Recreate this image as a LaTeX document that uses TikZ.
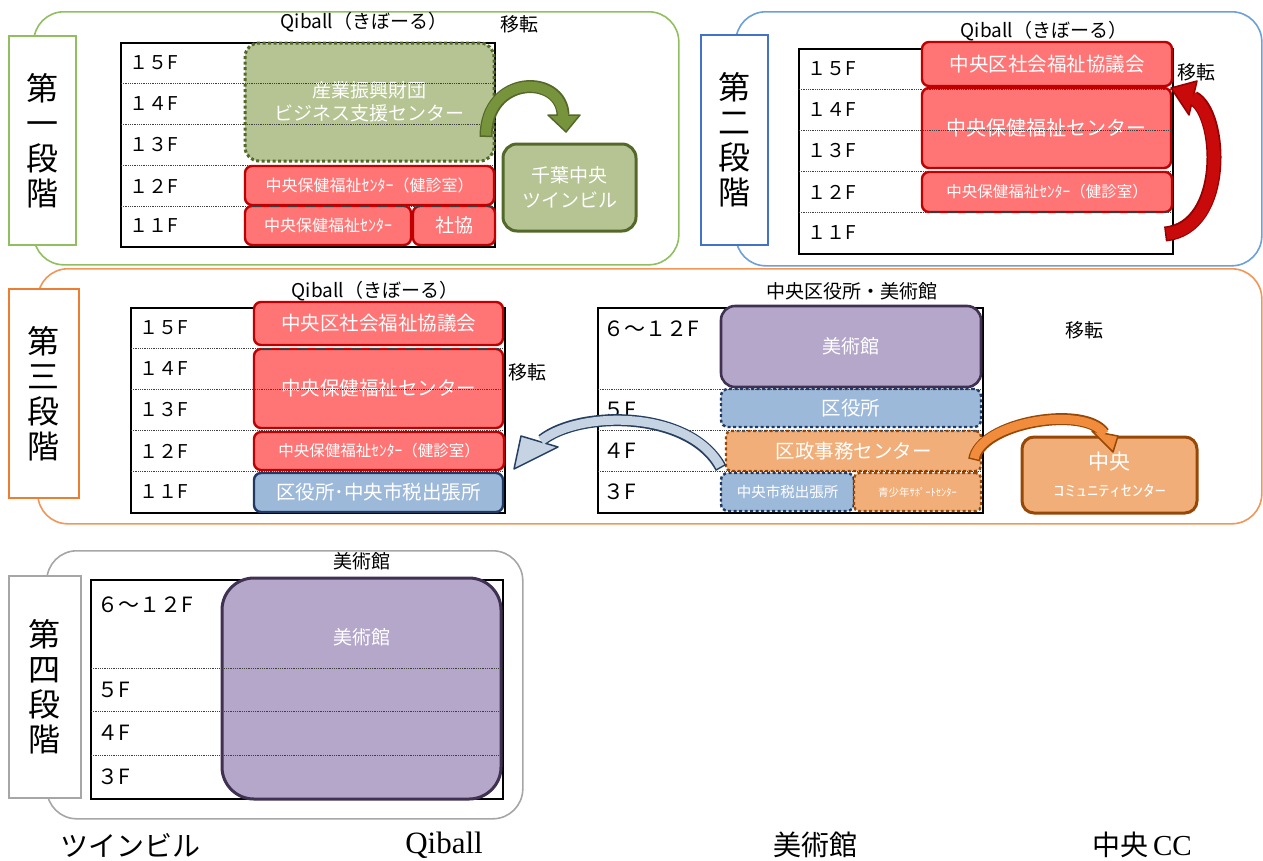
\documentclass[tikz,border=0pt]{standalone}
\usepackage{fontspec}
\usepackage{graphicx}
\setmainfont{Liberation Serif}
\newfontfamily\cjk{Noto Sans CJK JP}
\newcommand\jf[2]{\cjk\fontsize{#1}{#2}\selectfont}
\newcommand\serf[1]{\rmfamily\fontsize{#1}{#1}\selectfont}
\definecolor{grnP}{RGB}{146,190,98}
\definecolor{grnF}{RGB}{181,196,146}
\definecolor{grnD}{RGB}{84,104,42}
\definecolor{grnA}{RGB}{119,147,60}
\definecolor{redF}{RGB}{255,117,117}
\definecolor{redD}{RGB}{192,0,0}
\definecolor{redA}{RGB}{200,10,10}
\definecolor{redAD}{RGB}{150,0,0}
\definecolor{bluP}{RGB}{108,160,216}
\definecolor{bluL}{RGB}{68,114,196}
\definecolor{bluF}{RGB}{157,185,218}
\definecolor{bluD}{RGB}{31,56,100}
\definecolor{bluA}{RGB}{198,211,227}
\definecolor{bluAD}{RGB}{36,63,96}
\definecolor{orP}{RGB}{242,150,88}
\definecolor{orL}{RGB}{237,125,49}
\definecolor{orF}{RGB}{241,174,120}
\definecolor{orD}{RGB}{151,71,6}
\definecolor{orA}{RGB}{240,140,60}
\definecolor{grP}{RGB}{166,166,166}
\definecolor{purF}{RGB}{180,167,201}
\definecolor{purD}{RGB}{64,49,82}
\newcommand\fatarrow[8]{%
  \draw[draw=#2, line width=#4] #5;
  \filldraw[fill=#1, draw=#2, line width=1.5pt, line join=round] #6 -- #7 -- #8 -- cycle;
  \draw[draw=#1, line width=#3, shorten <=1.5pt, shorten >=-1.2pt] #5;
}
\begin{document}
\begin{tikzpicture}[x=1pt,y=-1pt,
  panel/.style={draw, line width=1.6pt, rounded corners=30pt, anchor=north west, inner sep=0pt},
  stg/.style={draw, fill=white, line width=1.6pt, anchor=north west, inner sep=0pt, align=center, font=\jf{32}{35}},
  tbl/.style={draw=black, line width=2pt, fill=white, anchor=north west, inner sep=0pt},
  rowline/.style={densely dotted, line width=0.8pt, black!75},
  flr/.style={anchor=west, inner sep=0pt, font=\jf{19}{19}},
  flrb/.style={anchor=west, inner sep=0pt, font=\jf{21}{21}},
  ttl/.style={inner sep=0pt, font=\jf{19}{19}},
  bx/.style={anchor=north west, inner sep=0pt, outer sep=0pt, align=center, text=white},
  redb/.style={bx, draw=redD, fill=redF, line width=2.4pt, rounded corners=7pt},
  blueb/.style={bx, draw=bluD, fill=bluF, line width=2.4pt, rounded corners=7pt},
  bluedot/.style={blueb, dash pattern=on 3pt off 2.5pt},
  orb/.style={bx, draw=orD, fill=orF, line width=3pt, rounded corners=12pt},
  ordot/.style={bx, draw=orD, fill=orF, line width=2.4pt, rounded corners=5pt, dash pattern=on 3pt off 2.5pt},
  purb/.style={bx, draw=purD, fill=purF, line width=2.6pt, rounded corners=14pt},
  grnb/.style={bx, draw=grnD, fill=grnF, line width=3pt, rounded corners=14pt},
  bottom/.style={inner sep=0pt}
]
\useasboundingbox (0,0) rectangle (1263,860);

% ---------------- panels ----------------
\node[panel, draw=grnP, minimum width=645pt, minimum height=253pt] (p1) at (33,11) {};
\node[panel, draw=bluP, minimum width=526pt, minimum height=254pt] (p2) at (735,11) {};
\node[panel, draw=orP, minimum width=1224pt, minimum height=255pt] (p3) at (37,268) {};
\node[panel, draw=grP, minimum width=476pt, minimum height=268pt] (p4) at (46,550) {};

% ---------------- stage labels ----------------
\node[stg, draw=grnP, minimum width=67pt, minimum height=209pt] (s1) at (8,35) {第\\一\\段\\階};
\node[stg, draw=bluL, minimum width=67pt, minimum height=210pt] (s2) at (700,34) {第\\二\\段\\階};
\node[stg, draw=orL, minimum width=70pt, minimum height=209pt] (s3) at (8,288) {第\\三\\段\\階};
\node[stg, draw=grP, minimum width=72pt, minimum height=222pt] (s4) at (8,575) {第\\四\\段\\階};

% ---------------- tables ----------------
\node[tbl, minimum width=374pt, minimum height=204pt] (T1) at (120,42) {};
\node[tbl, minimum width=374pt, minimum height=205pt] (T2) at (798,48) {};
\node[tbl, minimum width=374pt, minimum height=205pt] (T3) at (130,307) {};
\node[tbl, minimum width=385pt, minimum height=205pt] (T4) at (597,307) {};
\node[tbl, minimum width=412pt, minimum height=219pt] (T5) at (90,579) {};

% titles
\node[ttl] (t1) at (364,22) {Qiball（きぼーる）};
\node[ttl] (m1) at (519,24) {移転};
\node[ttl] (t2) at (1044,31) {Qiball（きぼーる）};
\node[ttl] (m2) at (1196,72) {移転};
\node[ttl] (t3) at (375,291) {Qiball（きぼーる）};
\node[ttl] (m3) at (527,372) {移転};
\node[ttl] (t4) at (852,291) {中央区役所・美術館};
\node[ttl] (m4) at (1084,330) {移転};
\node[ttl] (t5) at (362,561) {美術館};

% floor labels stage 1
\node[flr] (f1a) at (129,63) {１５F};
\node[flr] (f1b) at (129,104) {１４F};
\node[flr] (f1c) at (129,145) {１３F};
\node[flr] (f1d) at (129,186) {１２F};
\node[flr] (f1e) at (129,226) {１１F};
% stage 2
\node[flr] (f2a) at (807,69) {１５F};
\node[flr] (f2b) at (807,110) {１４F};
\node[flr] (f2c) at (807,151) {１３F};
\node[flr] (f2d) at (807,192) {１２F};
\node[flr] (f2e) at (807,233) {１１F};
% stage 3a
\node[flr] (f3a) at (139,328) {１５F};
\node[flr] (f3b) at (139,369) {１４F};
\node[flr] (f3c) at (139,410) {１３F};
\node[flr] (f3d) at (139,451) {１２F};
\node[flr] (f3e) at (139,492) {１１F};
% stage 3b
\node[flrb] (f4a) at (603,329) {６～１２F};
\node[flrb] (f4b) at (603,410) {５F};
\node[flrb] (f4c) at (603,451) {４F};
\node[flrb] (f4d) at (603,492) {３F};
% stage 4
\node[flrb] (f5a) at (97,605) {６～１２F};
\node[flrb] (f5b) at (97,690) {５F};
\node[flrb] (f5c) at (97,733) {４F};
\node[flrb] (f5d) at (97,777) {３F};

% ---------------- boxes stage 1 ----------------
\node[grnb, dash pattern=on 3pt off 2.5pt, minimum width=249pt, minimum height=118pt, font=\jf{19}{23}] (g1) at (245,43) {産業振興財団\\ビジネス支援センター};
\node[redb, minimum width=249pt, minimum height=39pt, font=\jf{16}{16}] (r1a) at (245,166) {中央保健福祉ｾﾝﾀｰ（健診室）};
\node[redb, minimum width=166pt, minimum height=39pt, font=\jf{16}{16}] (r1b) at (245,206) {中央保健福祉ｾﾝﾀｰ};
\node[redb, minimum width=82pt, minimum height=39pt, font=\jf{19}{19}] (r1c) at (413,206) {社協};
\node[grnb, minimum width=133pt, minimum height=87pt, font=\jf{19}{25}] (twin) at (503,144) {千葉中央\\ツインビル};

% ---------------- boxes stage 2 ----------------
\node[redb, minimum width=250pt, minimum height=44pt, font=\jf{19.5}{19.5}] (r2a) at (922,42) {中央区社会福祉協議会};
\node[redb, minimum width=249pt, minimum height=80pt, font=\jf{20}{20}] (r2b) at (922,88) {中央保健福祉センター};
\node[redb, minimum width=250pt, minimum height=40pt, font=\jf{15.5}{15.5}] (r2c) at (922,172) {中央保健福祉ｾﾝﾀｰ（健診室）};

% ---------------- boxes stage 3 ----------------
\node[redb, minimum width=249pt, minimum height=43pt, font=\jf{19.5}{19.5}] (r3a) at (254,302) {中央区社会福祉協議会};
\node[redb, minimum width=249pt, minimum height=79pt, font=\jf{19.5}{19.5}] (r3b) at (254,349) {中央保健福祉センター};
\node[redb, minimum width=250pt, minimum height=38pt, font=\jf{15.5}{15.5}] (r3c) at (254,432) {中央保健福祉ｾﾝﾀｰ（健診室）};
\node[blueb, minimum width=249pt, minimum height=39pt, font=\jf{19.5}{19.5}] (b3d) at (254,473) {区役所･中央市税出張所};
\node[purb, minimum width=260pt, minimum height=81pt, font=\jf{19}{19}] (p3b) at (721,306) {美術館};
\node[bluedot, minimum width=260pt, minimum height=38pt, font=\jf{19.5}{19.5}] (b3e) at (721,389) {区役所};
\node[ordot, minimum width=255pt, minimum height=40pt, font=\jf{19.5}{19.5}] (o3f) at (726,431) {区政事務センター};
\node[bluedot, minimum width=133pt, minimum height=38pt, font=\jf{14.5}{14.5}] (b3g) at (721,473) {中央市税出張所};
\node[ordot, minimum width=127pt, minimum height=38pt, font=\jf{10.5}{10.5}] (o3h) at (854,473) {青少年ｻﾎﾟｰﾄｾﾝﾀｰ};
\node[orb, minimum width=175pt, minimum height=76pt, font=\jf{21}{27}] (cc) at (1022,437) {中央\\\scalebox{1.5}[1]{\jf{15}{15}ｺﾐｭﾆﾃｨｾﾝﾀｰ}};

% ---------------- box stage 4 ----------------
\node[purb, line width=3pt, rounded corners=32pt, minimum width=279pt, minimum height=221pt] (p4b) at (222,578) {};
\node[inner sep=0pt, text=white, font=\jf{19}{19}] (p4t) at (362,637) {美術館};

% ---------------- row lines ----------------
\foreach \y in {83,124,165,206} \draw[rowline] (121,\y) -- (493,\y);
\foreach \y in {89,130,171,212} \draw[rowline] (799,\y) -- (1171,\y);
\foreach \y in {348,389,430,471} \draw[rowline] (131,\y) -- (503,\y);
\foreach \y in {389,430,471} \draw[rowline] (598,\y) -- (981,\y);
\foreach \y in {668,711,755} \draw[rowline] (91,\y) -- (501,\y);

% ---------------- movement arrows ----------------
\fatarrow{grnA}{grnD}{10pt}{13pt}{(486,137) .. controls (486,74) and (562,74) .. (563,115)}{(566,132)}{(548,115)}{(580,115)}
\fatarrow{redA}{redAD}{12pt}{15pt}{(1165,234) .. controls (1228,228) and (1222,112) .. (1193,98)}{(1171,88)}{(1197,81)}{(1189,115)}
\fatarrow{bluA}{bluAD}{9pt}{12pt}{(721,468) .. controls (690,410) and (580,410) .. (542,440)}{(514,469)}{(521,436)}{(558,447)}
\fatarrow{orA}{orD}{9pt}{12pt}{(974,460) .. controls (980,422) and (1085,405) .. (1104,433)}{(1113,452)}{(1092,431)}{(1118,436)}

% ---------------- bottom labels ----------------
\node[bottom, font=\jf{28}{28}] (lb1) at (130,845) {ツインビル};
\node[bottom, font=\serf{31}] (lb2) at (444,845) {Qiball};
\node[bottom, font=\jf{28}{28}] (lb3) at (815,845) {美術館};
\node[bottom, font=\jf{28}{28}] (lb4) at (1142,845) {中央\,{\serf{29}CC}};
\end{tikzpicture}
\end{document}
